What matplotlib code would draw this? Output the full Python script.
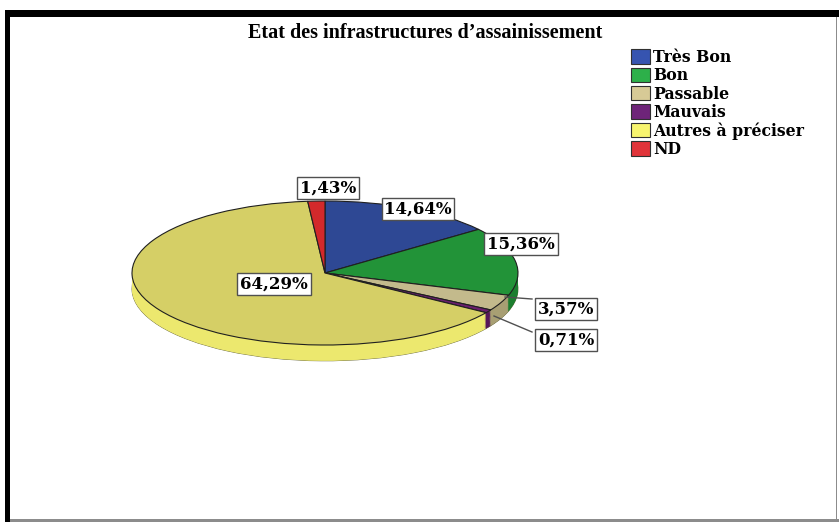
import matplotlib
matplotlib.use("Agg")
import matplotlib.pyplot as plt
from matplotlib.patches import Rectangle, Patch

# data
categories = ["Très Bon", "Bon", "Passable", "Mauvais", "Autres à préciser", "ND"]
values = [14.64, 15.36, 3.57, 0.71, 64.29, 1.43]
pct_labels = ["14,64%", "15,36%", "3,57%", "0,71%", "64,29%", "1,43%"]

top_colors = ["#2E4894", "#229338", "#C3BA8C", "#6A1E6E", "#D5CF66", "#D3292B"]
side_colors = ["#253C7E", "#1C7E2F", "#A89F73", "#55165A", "#ECE86E", "#B32224"]
legend_colors = ["#3654B0", "#2DB04A", "#D7CA96", "#6E2479", "#F7F46E", "#E0343A"]

W, H = 839, 522
fig = plt.figure(figsize=(W / 100, H / 100), dpi=100)

# background / frame in pixel coords
bg = fig.add_axes([0, 0, 1, 1])
bg.set_xlim(0, W)
bg.set_ylim(H, 0)
bg.axis("off")
bg.set_zorder(0)
bg.add_patch(Rectangle((5, 10), W - 5, 7, color="black", lw=0))
bg.add_patch(Rectangle((5, 10), 5, H - 10, color="black", lw=0))
bg.add_patch(Rectangle((835.5, 17), 1.5, 502, color="#8C8C8C", lw=0))
bg.add_patch(Rectangle((10, 518.5), W - 10, 3, color="#8C8C8C", lw=0))

bg.text(425, 33, "Etat des infrastructures d\u2019assainissement", ha="center", va="center",
        fontsize=14.5, fontweight="bold", family="Liberation Serif")

# pie axes: 1 unit = 193 px horizontally, 72 px vertically
cx, cy, rx, ry = 325, 273, 193, 72
ax = fig.add_axes([0, 0, 1, 1])
ax.patch.set_alpha(0)
ax.set_zorder(1)

depth = 0.22
n_layers = 18
# bottom rim with a thin outline, then the side layers, then the top face
ax.pie(values, colors=side_colors, startangle=90, counterclock=False,
       center=(0, -depth), wedgeprops=dict(linewidth=0.6, edgecolor="#6B6B40"))
for i in range(n_layers, 0, -1):
    off = -depth * i / n_layers
    ax.pie(values, colors=side_colors, startangle=90, counterclock=False,
           center=(0, off), wedgeprops=dict(linewidth=0))
ax.pie(values, colors=top_colors, startangle=90, counterclock=False,
       wedgeprops=dict(linewidth=0.8, edgecolor="#202020"))

ax.set_aspect("auto")
ax.set_xlim(-cx / rx, (W - cx) / rx)
ax.set_ylim((cy - H) / ry, cy / ry)
ax.axis("off")

# overlay for labels and legend
lab_ax = fig.add_axes([0, 0, 1, 1])
lab_ax.set_xlim(0, W)
lab_ax.set_ylim(H, 0)
lab_ax.axis("off")
lab_ax.set_zorder(2)

label_pos = [(418, 209), (521, 244), (566, 309), (566, 340), (274, 284), (328, 188)]
leaders = {2: ((505, 297), (532, 299)), 3: ((494, 316), (532, 332))}
for i, (lab, (px, py)) in enumerate(zip(pct_labels, label_pos)):
    lab_ax.text(px, py, lab, ha="center", va="center", fontsize=12, fontweight="bold",
                family="DejaVu Serif", zorder=10,
                bbox=dict(boxstyle="square,pad=0.16", fc="white", ec="#505050", lw=1))
    if i in leaders:
        (sx, sy), (ex, ey) = leaders[i]
        lab_ax.plot([sx, ex], [sy, ey], color="#505050", lw=1, zorder=9)

handles = [Patch(facecolor=c, edgecolor="#303030", lw=0.8) for c in legend_colors]
lab_ax.legend(handles, categories, loc="upper left", bbox_to_anchor=(631 / W, 1 - 49 / H),
              frameon=False, prop=dict(family="DejaVu Serif", weight="bold", size=11.3),
              handlelength=1.2, handleheight=1.05, handletextpad=0.2, labelspacing=0.08,
              borderaxespad=0, borderpad=0)

fig.savefig("out.png", dpi=100)
